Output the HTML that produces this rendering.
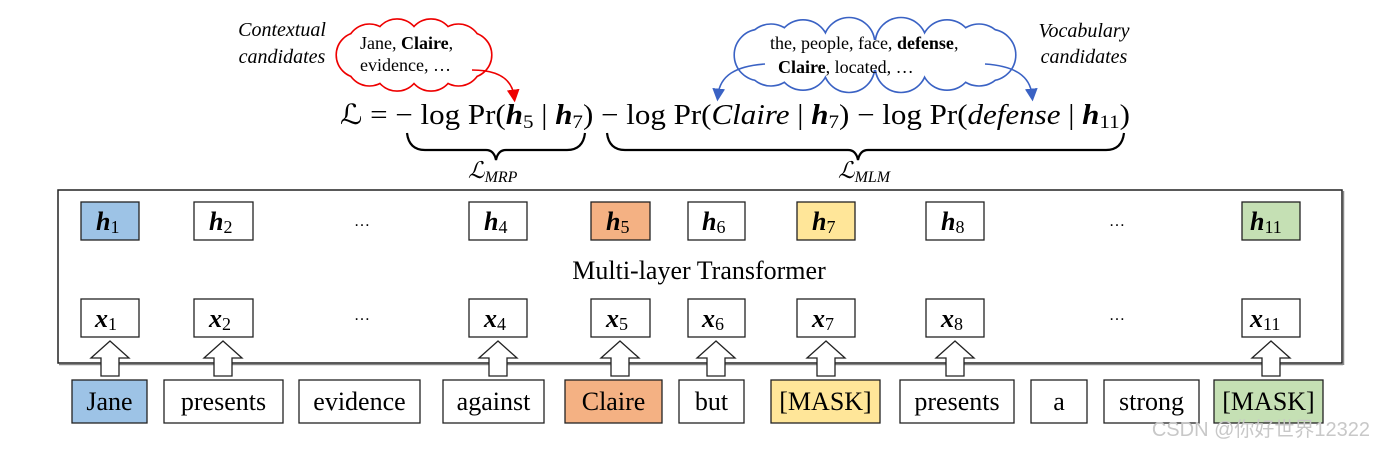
<!DOCTYPE html>
<html><head><meta charset="utf-8"><style>
html,body{margin:0;padding:0;background:#fff;}
svg{display:block;}
text{font-family:"Liberation Serif",serif;}
</style></head><body>
<svg width="1386" height="450" viewBox="0 0 1386 450" xmlns="http://www.w3.org/2000/svg">
<defs>
<marker id="ar" markerWidth="8" markerHeight="8" refX="4" refY="4" orient="auto"><path d="M0,0 L8,4 L0,8 z" fill="#e00"/></marker>
<marker id="ab" markerWidth="8" markerHeight="8" refX="4" refY="4" orient="auto"><path d="M0,0 L8,4 L0,8 z" fill="#3a62c4"/></marker>
<g id="rc">
<circle cx="469" cy="55" r="22"/><circle cx="458.5" cy="63.2" r="22"/><circle cx="431" cy="68.3" r="22"/><circle cx="397" cy="68.3" r="22"/><circle cx="369.5" cy="63.2" r="22"/><circle cx="359" cy="55" r="22"/><circle cx="369.5" cy="46.8" r="22"/><circle cx="397" cy="41.7" r="22"/><circle cx="431" cy="41.7" r="22"/><circle cx="458.5" cy="46.8" r="22"/>
<ellipse cx="414" cy="55" rx="55" ry="18"/>
</g>
<g id="bc">
<circle cx="990" cy="55" r="25"/><circle cx="979" cy="60.2" r="25"/><circle cx="947" cy="64.4" r="25"/><circle cx="901" cy="66.7" r="25"/><circle cx="849" cy="66.7" r="25"/><circle cx="803" cy="64.4" r="25"/><circle cx="771" cy="60.2" r="25"/><circle cx="760" cy="55" r="25"/><circle cx="771" cy="49.8" r="25"/><circle cx="803" cy="45.6" r="25"/><circle cx="849" cy="43.3" r="25"/><circle cx="901" cy="43.3" r="25"/><circle cx="947" cy="45.6" r="25"/><circle cx="979" cy="49.8" r="25"/>
<ellipse cx="875" cy="55" rx="115" ry="15"/>
</g>
</defs>
<!-- red cloud -->
<use href="#rc" fill="#fff" stroke="#e00" stroke-width="3.2"/>
<use href="#rc" fill="#fff" stroke="none"/>
<path d="M472,70 C500,70 512,80 514,96" fill="none" stroke="#e00" stroke-width="1.6" marker-end="url(#ar)"/>
<text x="360" y="49" font-size="18">Jane, <tspan font-weight="bold">Claire</tspan>,</text>
<text x="360" y="71" font-size="18">evidence, …</text>
<text x="282" y="36" font-size="20" font-style="italic" text-anchor="middle">Contextual</text>
<text x="282" y="63" font-size="20" font-style="italic" text-anchor="middle">candidates</text>
<!-- blue cloud -->
<use href="#bc" fill="#fff" stroke="#3a62c4" stroke-width="3.2"/>
<use href="#bc" fill="#fff" stroke="none"/>
<path d="M765,64 C735,66 720,76 718,95" fill="none" stroke="#3a62c4" stroke-width="1.6" marker-end="url(#ab)"/>
<path d="M985,64 C1015,66 1030,76 1032,95" fill="none" stroke="#3a62c4" stroke-width="1.6" marker-end="url(#ab)"/>
<text x="770" y="49" font-size="18">the,  people, face, <tspan font-weight="bold">defense</tspan>,</text>
<text x="778" y="73" font-size="18"><tspan font-weight="bold">Claire</tspan>, located, …</text>
<text x="1084" y="37" font-size="20" font-style="italic" text-anchor="middle">Vocabulary</text>
<text x="1084" y="63" font-size="20" font-style="italic" text-anchor="middle">candidates</text>
<!-- equation -->
<text x="340" y="124" font-size="28" textLength="790" lengthAdjust="spacingAndGlyphs">ℒ = − log Pr(<tspan font-weight="bold" font-style="italic">h</tspan><tspan font-size="19" dy="4">5</tspan><tspan dy="-4"> | </tspan><tspan font-weight="bold" font-style="italic">h</tspan><tspan font-size="19" dy="4">7</tspan><tspan dy="-4">) − log Pr(</tspan><tspan font-style="italic">Claire</tspan> | <tspan font-weight="bold" font-style="italic">h</tspan><tspan font-size="19" dy="4">7</tspan><tspan dy="-4">)  − log Pr(</tspan><tspan font-style="italic">defense</tspan> | <tspan font-weight="bold" font-style="italic">h</tspan><tspan font-size="19" dy="4">11</tspan><tspan dy="-4">)</tspan></text>
<!-- braces -->
<path d="M407,133 Q409,150 425,150 L486,150 Q494,150 496,160 Q498,150 506,150 L567,150 Q583,150 585,133" fill="none" stroke="#000" stroke-width="2.2"/>
<path d="M607,133 Q609,150 625,150 L848,150 Q856,150 858,160 Q860,150 868,150 L1106,150 Q1122,150 1124,133" fill="none" stroke="#000" stroke-width="2.2"/>
<text x="468" y="178" font-size="23" font-style="italic">ℒ<tspan font-size="16" dy="4">MRP</tspan></text>
<text x="838" y="178" font-size="23" font-style="italic">ℒ<tspan font-size="16" dy="4">MLM</tspan></text>
<!-- main box -->
<rect x="58" y="190" width="1284" height="173" fill="#fff" stroke="#222" stroke-width="1.5"/>
<line x1="59" y1="364.5" x2="1343" y2="364.5" stroke="#888" stroke-width="1.5"/>
<line x1="1343.5" y1="191" x2="1343.5" y2="365" stroke="#888" stroke-width="1.5"/>
<text x="699" y="279" font-size="26" text-anchor="middle">Multi-layer Transformer</text>
<g stroke="#222" stroke-width="1.3">
<rect x="81" y="202" width="58" height="38" fill="#9dc3e6"/>
<rect x="194" y="202" width="59" height="38" fill="#fff"/>
<rect x="469" y="202" width="58" height="38" fill="#fff"/>
<rect x="591" y="202" width="59" height="38" fill="#f4b183"/>
<rect x="688" y="202" width="57" height="38" fill="#fff"/>
<rect x="797" y="202" width="58" height="38" fill="#ffe699"/>
<rect x="926" y="202" width="58" height="38" fill="#fff"/>
<rect x="1242" y="202" width="58" height="38" fill="#c5e0b4"/>
<rect x="81" y="299" width="58" height="38" fill="#fff"/>
<rect x="194" y="299" width="59" height="38" fill="#fff"/>
<rect x="469" y="299" width="58" height="38" fill="#fff"/>
<rect x="591" y="299" width="59" height="38" fill="#fff"/>
<rect x="688" y="299" width="57" height="38" fill="#fff"/>
<rect x="797" y="299" width="58" height="38" fill="#fff"/>
<rect x="926" y="299" width="58" height="38" fill="#fff"/>
<rect x="1242" y="299" width="58" height="38" fill="#fff"/>
</g>
<g font-size="26" font-weight="bold" font-style="italic">
<text x="96" y="230">h<tspan font-size="18" font-weight="normal" font-style="normal" dy="3">1</tspan></text>
<text x="209" y="230">h<tspan font-size="18" font-weight="normal" font-style="normal" dy="3">2</tspan></text>
<text x="484" y="230">h<tspan font-size="18" font-weight="normal" font-style="normal" dy="3">4</tspan></text>
<text x="606" y="230">h<tspan font-size="18" font-weight="normal" font-style="normal" dy="3">5</tspan></text>
<text x="702" y="230">h<tspan font-size="18" font-weight="normal" font-style="normal" dy="3">6</tspan></text>
<text x="812" y="230">h<tspan font-size="18" font-weight="normal" font-style="normal" dy="3">7</tspan></text>
<text x="941" y="230">h<tspan font-size="18" font-weight="normal" font-style="normal" dy="3">8</tspan></text>
<text x="1250" y="230">h<tspan font-size="18" font-weight="normal" font-style="normal" dy="3">11</tspan></text>
<text x="95" y="327">x<tspan font-size="18" font-weight="normal" font-style="normal" dy="3">1</tspan></text>
<text x="209" y="327">x<tspan font-size="18" font-weight="normal" font-style="normal" dy="3">2</tspan></text>
<text x="484" y="327">x<tspan font-size="18" font-weight="normal" font-style="normal" dy="3">4</tspan></text>
<text x="606" y="327">x<tspan font-size="18" font-weight="normal" font-style="normal" dy="3">5</tspan></text>
<text x="702" y="327">x<tspan font-size="18" font-weight="normal" font-style="normal" dy="3">6</tspan></text>
<text x="812" y="327">x<tspan font-size="18" font-weight="normal" font-style="normal" dy="3">7</tspan></text>
<text x="941" y="327">x<tspan font-size="18" font-weight="normal" font-style="normal" dy="3">8</tspan></text>
<text x="1250" y="327">x<tspan font-size="18" font-weight="normal" font-style="normal" dy="3">11</tspan></text>
</g>
<g font-size="16" text-anchor="middle"><text x="362" y="226">…</text><text x="1117" y="226">…</text><text x="362" y="320">…</text><text x="1117" y="320">…</text></g>
<!-- up arrows -->
<g fill="#fff" stroke="#222" stroke-width="1.3">
<path transform="translate(110,0)" d="M0,341 L19,358 L9,358 L9,376 L-9,376 L-9,358 L-19,358 Z"/>
<path transform="translate(223,0)" d="M0,341 L19,358 L9,358 L9,376 L-9,376 L-9,358 L-19,358 Z"/>
<path transform="translate(498,0)" d="M0,341 L19,358 L9,358 L9,376 L-9,376 L-9,358 L-19,358 Z"/>
<path transform="translate(620,0)" d="M0,341 L19,358 L9,358 L9,376 L-9,376 L-9,358 L-19,358 Z"/>
<path transform="translate(716,0)" d="M0,341 L19,358 L9,358 L9,376 L-9,376 L-9,358 L-19,358 Z"/>
<path transform="translate(826,0)" d="M0,341 L19,358 L9,358 L9,376 L-9,376 L-9,358 L-19,358 Z"/>
<path transform="translate(955,0)" d="M0,341 L19,358 L9,358 L9,376 L-9,376 L-9,358 L-19,358 Z"/>
<path transform="translate(1271,0)" d="M0,341 L19,358 L9,358 L9,376 L-9,376 L-9,358 L-19,358 Z"/>
</g>
<!-- words -->
<g stroke="#222" stroke-width="1.3">
<rect x="72" y="380" width="75" height="43" fill="#9dc3e6"/>
<rect x="164" y="380" width="119" height="43" fill="#fff"/>
<rect x="299" y="380" width="121" height="43" fill="#fff"/>
<rect x="443" y="380" width="101" height="43" fill="#fff"/>
<rect x="565" y="380" width="97" height="43" fill="#f4b183"/>
<rect x="679" y="380" width="65" height="43" fill="#fff"/>
<rect x="771" y="380" width="109" height="43" fill="#ffe699"/>
<rect x="900" y="380" width="114" height="43" fill="#fff"/>
<rect x="1031" y="380" width="56" height="43" fill="#fff"/>
<rect x="1104" y="380" width="95" height="43" fill="#fff"/>
<rect x="1214" y="380" width="109" height="43" fill="#c5e0b4"/>
</g>
<g font-size="26" text-anchor="middle">
<text x="109.5" y="410">Jane</text><text x="223.5" y="410">presents</text><text x="359.5" y="410">evidence</text><text x="493.5" y="410">against</text><text x="613.5" y="410">Claire</text><text x="711.5" y="410">but</text><text x="825.5" y="410">[MASK]</text><text x="957" y="410">presents</text><text x="1059" y="410">a</text><text x="1151.5" y="410">strong</text><text x="1268.5" y="410">[MASK]</text>
</g>
<text x="1370" y="436" font-size="20" fill="#c8c8c8" text-anchor="end" style="font-family:'Liberation Sans','Noto Sans CJK SC',sans-serif">CSDN @你好世界12322</text>
</svg>
</body></html>
